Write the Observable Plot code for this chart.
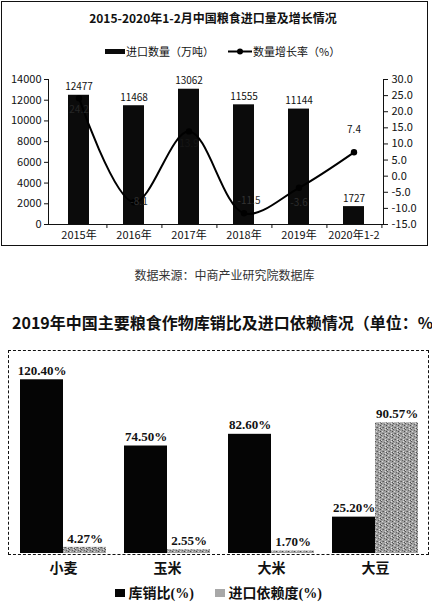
<!DOCTYPE html>
<html><head><meta charset="utf-8">
<script src="https://cdn.jsdelivr.net/npm/d3@7"></script>
<script src="https://cdn.jsdelivr.net/npm/@observablehq/plot@0.6"></script>
<style>
body{margin:0;background:#fff;width:432px;height:603px;position:relative;overflow:hidden;font-family:"Noto Sans CJK SC",sans-serif;color:#111;}
.abs{position:absolute;}
.ser{font-family:"Liberation Serif","Noto Sans CJK SC",serif;font-weight:bold;}
</style></head><body>
<div class="abs" style="left:1px;top:1px;width:427px;height:245px;border:1.5px solid #111;box-sizing:border-box;"></div>
<div class="abs" style="left:0;top:9px;width:426px;text-align:center;font-weight:bold;font-size:12px;white-space:nowrap;">2015-2020年1-2月中国粮食进口量及增长情况</div>
<div class="abs" style="left:105px;top:41px;font-size:11px;white-space:nowrap;line-height:16px;">
  <svg width="21" height="8" style="vertical-align:middle"><rect x="0" y="2" width="20" height="5" fill="#0b0b0b"/></svg><span style="vertical-align:middle">进口数量（万吨）</span>
</div>
<div class="abs" style="left:228px;top:41px;font-size:11px;white-space:nowrap;line-height:16px;">
  <svg width="25" height="8" style="vertical-align:middle"><line x1="0" x2="24" y1="4.5" y2="4.5" stroke="#000" stroke-width="2"/><circle cx="12" cy="4.5" r="3" fill="#000"/></svg><span style="vertical-align:middle">数量增长率（%）</span>
</div>
<div class="abs" id="c1" style="left:0;top:60px"></div>
<div class="abs" style="left:0;top:266px;width:449px;text-align:center;font-size:12px;color:#333;white-space:nowrap;">数据来源：中商产业研究院数据库</div>
<div class="abs" style="left:12px;top:310px;font-size:16px;font-weight:bold;white-space:nowrap;">2019年中国主要粮食作物库销比及进口依赖情况（单位：%</div>
<div class="abs" style="left:8px;top:350px;width:421px;height:205px;border:1.5px dashed #111;box-sizing:border-box;"></div>
<div class="abs" id="c2" style="left:0;top:351px"></div>
<div class="abs ser" style="left:115px;top:583px;font-size:14px;white-space:nowrap;line-height:20px;">
  <svg width="10" height="9" style="vertical-align:middle"><rect width="10" height="8" fill="#050505"/></svg><span style="vertical-align:middle"> 库销比(%)</span>
</div>
<div class="abs ser" style="left:215px;top:583px;font-size:14px;white-space:nowrap;line-height:20px;">
  <svg width="10" height="9" style="vertical-align:middle"><rect width="10" height="8" fill="#a8a8a8"/></svg><span style="vertical-align:middle"> 进口依赖度(%)</span>
</div>
<script>
// ---- Chart 1 data ----
const years = ["2015年","2016年","2017年","2018年","2019年","2020年1-2"];
const importVol = [12477, 11468, 13062, 11555, 11144, 1727];
const growth = [24.2, -8.1, 13.9, -11.5, -3.6, 7.4];
const leftTicks = [0,2000,4000,6000,8000,10000,12000,14000];
const rightTicks = [-15,-10,-5,0,5,10,15,20,25,30];

// ---- Chart 2 data ----
const crops = ["小麦","玉米","大米","大豆"];
const stockRatio = [120.40, 74.50, 82.60, 25.20];
const importDep = [4.27, 2.55, 1.70, 90.57];
const seriesNames = ["库销比(%)","进口依赖度(%)"];

const LMAX = 14000, RMIN = -15, RMAX = 30;
const toLeft = g => (g - RMIN) * LMAX / (RMAX - RMIN);
const fromLeft = v => v * (RMAX - RMIN) / LMAX + RMIN;
const fmtRight = v => (Math.round(fromLeft(v) * 10) / 10 + 0).toFixed(1);

const rows = years.map((y, i) => ({year: y, vol: importVol[i], g: growth[i], gy: toLeft(growth[i])}));
const W1 = 428, ML1 = 48, MR1 = 45;
const step1 = (W1 - ML1 - MR1) / years.length;
const txt = (filterYears, o) => Plot.text(rows, Object.assign({filter: d => filterYears.includes(d.year), x: "year", y: "gy", text: d => String(d.g), fontSize: 10}, o));

const c1 = Plot.plot({
  width: W1, height: 190, marginTop: 19, marginBottom: 26, marginLeft: ML1, marginRight: MR1,
  style: {fontFamily: '"Noto Sans CJK SC",sans-serif', fontSize: "11px", color: "#111", background: "transparent"},
  x: {domain: years, paddingInner: 0.62, paddingOuter: 0.31, label: null},
  y: {domain: [0, LMAX], label: null},
  marks: [
    Plot.barY(rows, {x: "year", y: "vol", fill: "#0b0b0b"}),
    Plot.frame({anchor: "left", stroke: "#111"}),
    Plot.frame({anchor: "right", stroke: "#111"}),
    Plot.frame({anchor: "bottom", stroke: "#111"}),
    Plot.axisY({ticks: leftTicks, tickSize: 4, tickPadding: 3, tickFormat: d => String(d), label: null}),
    Plot.axisY({anchor: "right", ticks: rightTicks.map(toLeft), tickSize: 4, tickPadding: 4, tickFormat: fmtRight, label: null}),
    Plot.axisX({tickSize: 0, tickPadding: 7, label: null}),
    Plot.axisX({tickSize: 4, tickFormat: () => "", dx: step1 / 2, label: null}),
    Plot.line(rows, {x: "year", y: "gy", curve: "catmull-rom", stroke: "#000", strokeWidth: 2}),
    Plot.dot(rows, {x: "year", y: "gy", r: 3.2, fill: "#000"}),
    Plot.text(rows, {x: "year", y: "vol", text: d => String(d.vol), dy: -8, fontSize: 10}),
    txt(["2015年"], {dy: 12, fill: "#262626"}),
    txt(["2017年"], {dy: 12, fill: "#161616"}),
    txt(["2016年"], {dx: 5, fill: "#2e2e2e"}),
    txt(["2018年"], {dy: -12, dx: 5, fill: "#333"}),
    txt(["2019年"], {dy: 15, fill: "#2e2e2e"}),
    txt(["2020年1-2"], {dy: -23, fill: "#111"})
  ]
});
document.getElementById("c1").appendChild(c1);

// ---- Chart 2 ----
const rows2 = crops.flatMap((c, i) => [
  {crop: c, s: seriesNames[0], v: stockRatio[i]},
  {crop: c, s: seriesNames[1], v: importDep[i]}
]);
const c2 = Plot.plot({
  width: 432, height: 232, marginTop: 0, marginBottom: 30, marginLeft: 11, marginRight: 4,
  style: {fontFamily: '"Liberation Serif","Noto Sans CJK SC",serif', fontSize: "14px", color: "#111", background: "transparent", overflow: "visible"},
  fx: {domain: crops, paddingInner: 0.17, paddingOuter: 0.085, label: null},
  x: {domain: seriesNames, padding: 0, axis: null},
  y: {domain: [0, 140], axis: null},
  marks: [
    Plot.barY(rows2, {filter: d => d.s === seriesNames[0], fx: "crop", x: "s", y: "v", fill: "#050505"}),
    Plot.barY(rows2, {filter: d => d.s === seriesNames[1], fx: "crop", x: "s", y: "v", fill: "url(#noise)"}),
    Plot.text(rows2, {fx: "crop", x: "s", y: "v", text: d => d.v.toFixed(2) + "%", dy: -9, fontSize: 13, fontWeight: "bold"}),
    Plot.axisFx({anchor: "bottom", tickSize: 0, tickPadding: 10, fontWeight: "bold", fontSize: 14, label: null})
  ]
});
const defs = d3.select(c2).insert("defs", ":first-child");
const pat = defs.append("pattern").attr("id", "noise").attr("width", 6).attr("height", 6).attr("patternUnits", "userSpaceOnUse");
pat.append("rect").attr("width", 6).attr("height", 6).attr("fill", "#a0a0a0");
[[0,0,"#555"],[3,1,"#666"],[1,2,"#d8d8d8"],[5,2,"#4a4a4a"],[2,4,"#5a5a5a"],[4,4,"#e0e0e0"],[0,5,"#cfcfcf"],[4,0,"#ddd"],[1,4,"#777"],[5,5,"#505050"]]
  .forEach(([x, y, c]) => pat.append("rect").attr("x", x).attr("y", y).attr("width", 1).attr("height", 1).attr("fill", c));
document.getElementById("c2").appendChild(c2);
</script>
</body></html>
